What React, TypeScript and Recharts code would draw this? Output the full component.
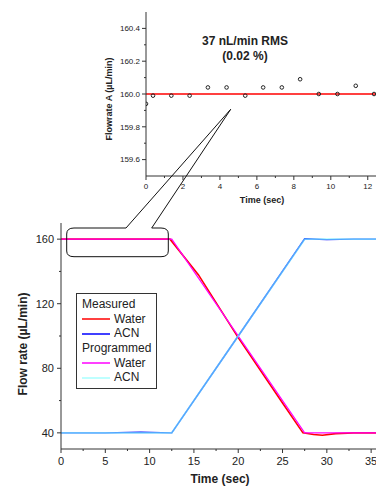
import React from 'react'
import {
  LineChart, Line, ComposedChart, Scatter, XAxis, YAxis, ReferenceLine, Legend,
} from 'recharts'

const FONT = '"Liberation Sans", Arial, sans-serif'

// main chart: measured and programmed gradients
const measuredWaterTime = [0, 5, 10, 12.3, 15.5, 20, 25, 27.3, 28.5, 29.5, 31, 33, 36]
const measuredWaterFlow = [160, 160, 160, 160, 138, 99, 58.5, 40, 39, 38.5, 39.5, 40, 40]
const measuredAcnTime = [0, 5, 9, 12.5, 20, 27.5, 30, 33, 36]
const measuredAcnFlow = [40, 40, 40.4, 40, 100, 160.2, 159.7, 160, 160]
const programmedTime = [0, 12.5, 27.5, 36]
const programmedWater = [160, 160, 40, 40]
const programmedAcn = [40, 40, 160, 160]

const mainXTicks = [0, 2.5, 5, 7.5, 10, 12.5, 15, 17.5, 20, 22.5, 25, 27.5, 30, 32.5, 35]
const mainXMajor = [0, 5, 10, 15, 20, 25, 30, 35]
const mainYTicks = [40, 60, 80, 100, 120, 140, 160]
const mainYMajor = [40, 80, 120, 160]

// inset: zoom on the first 12 s of water flow
const insetTime = [0, 0.38, 1.37, 2.36, 3.35, 4.36, 5.37, 6.34, 7.35, 8.34, 9.35, 10.36, 11.35, 12.34]
const insetFlow = [159.94, 159.99, 159.99, 159.99, 160.04, 160.04, 159.99, 160.04, 160.04, 160.09, 160.0, 160.0, 160.05, 160.0]
const insetXTicks = [0, 1, 2, 3, 4, 5, 6, 7, 8, 9, 10, 11, 12]
const insetXMajor = [0, 2, 4, 6, 8, 10, 12]
const insetYTicks = [159.6, 159.7, 159.8, 159.9, 160.0, 160.1, 160.2, 160.3, 160.4]
const insetYMajor = [159.6, 159.8, 160.0, 160.2, 160.4]

const legendItems = [
  { heading: 'Measured' },
  { name: 'Water', color: '#ff0000' },
  { name: 'ACN', color: '#0000ff' },
  { heading: 'Programmed' },
  { name: 'Water', color: '#ff00ff' },
  { name: 'ACN', color: '#a8ffff' },
]

const zip = (xs: number[], ys: number[]) => xs.map((t, i) => ({ t, v: ys[i] }))

const isMajor = (list: number[], v: number) => list.some(m => Math.abs(m - v) < 1e-6)

function leftTick(majors: number[], fontSize: number, fmt: (v: number) => string, gap: number) {
  return (p: any) => {
    const v = p.payload.value
    const major = isMajor(majors, v)
    const ax = p.x + gap
    return (
      <g>
        <line x1={ax - (major ? 4 : 2)} x2={ax} y1={p.y} y2={p.y} stroke="#333" />
        {major && (
          <text x={p.x} y={p.y} dy="0.35em" textAnchor="end" fontSize={fontSize} fill="#222" fontFamily={FONT}>
            {fmt(v)}
          </text>
        )}
      </g>
    )
  }
}

function bottomTick(majors: number[], fontSize: number, gap: number) {
  return (p: any) => {
    const v = p.payload.value
    const major = isMajor(majors, v)
    const ay = p.y - gap
    return (
      <g>
        <line x1={p.x} x2={p.x} y1={ay} y2={ay + (major ? 4 : 2)} stroke="#333" />
        {major && (
          <text x={p.x} y={p.y} dy="0.71em" textAnchor="middle" fontSize={fontSize} fill="#222" fontFamily={FONT}>
            {v}
          </text>
        )}
      </g>
    )
  }
}

function MainLegend() {
  return (
    <div style={{ width: 81, height: 96, border: '1px solid #333', background: '#fff', boxSizing: 'border-box', fontFamily: FONT, fontSize: 12, color: '#222', padding: '3px 0 0 5px' }}>
      {legendItems.map((it, i) => (
        <div key={i} style={{ height: 14.7, lineHeight: '14.7px', whiteSpace: 'nowrap', display: 'flex', alignItems: 'center' }}>
          {it.heading ? it.heading : (
            <>
              <svg width={30} height={4} style={{ marginRight: 2 }}>
                <line x1={0} x2={28} y1={2} y2={2} stroke={it.color} strokeWidth={1.5} />
              </svg>
              {it.name}
            </>
          )}
        </div>
      ))}
    </div>
  )
}

export default function App() {
  return (
    <div style={{ position: 'fixed', left: 0, top: 0, width: 376, height: 486, overflow: 'hidden', background: '#fff' }}>
      {/* inset */}
      <div style={{ position: 'absolute', left: 0, top: 0 }}>
        <ComposedChart width={377} height={210} margin={{ top: 12, right: 0, left: 0, bottom: 0 }}>
          <XAxis
            dataKey="t" type="number" domain={[0, 12.5]} ticks={insetXTicks} allowDataOverflow
            height={34} tickSize={4} tickMargin={3} tickLine={false} axisLine={{ stroke: '#333' }}
            tick={bottomTick(insetXMajor, 8, 7)} interval={0}
            label={{ content: () => <text x={262} y={203} textAnchor="middle" fontSize={9} fontWeight="bold" fontFamily={FONT} fill="#222">Time (sec)</text> }}
          />
          <XAxis xAxisId="top" orientation="top" type="number" domain={[0, 12.5]} height={0} tick={false} tickLine={false} axisLine={{ stroke: '#333' }} />
          <YAxis
            dataKey="v" type="number" domain={[159.5, 160.5]} ticks={insetYTicks} allowDataOverflow
            width={146} tickSize={4} tickMargin={2} tickLine={false} axisLine={{ stroke: '#333' }}
            tick={leftTick(insetYMajor, 8, v => v.toFixed(1), 6)} interval={0}
            label={{ content: () => <text x={109} y={99} transform="rotate(-90 109 99)" textAnchor="middle" dominantBaseline="central" fontSize={9} fontWeight="bold" fontFamily={FONT} fill="#222">Flowrate A (µL/min)</text> }}
          />
          <ReferenceLine y={160} stroke="#ff0000" strokeWidth={1.5} />
          <Scatter
            data={zip(insetTime, insetFlow)} isAnimationActive={false}
            shape={(p: any) => <circle cx={p.cx} cy={p.cy} r={1.8} fill="none" stroke="#222" strokeWidth={1} />}
          />
        </ComposedChart>
      </div>

      {/* main */}
      <div style={{ position: 'absolute', left: 0, top: 0 }}>
        <LineChart width={380} height={486} margin={{ top: 223, right: 0, left: 0, bottom: 0 }}>
          <XAxis
            dataKey="t" type="number" domain={[0, 36]} ticks={mainXTicks} allowDataOverflow
            height={37} tickSize={4} tickMargin={4} tickLine={false} axisLine={{ stroke: '#333' }}
            tick={bottomTick(mainXMajor, 11, 8)} interval={0}
            label={{ content: () => <text x={220} y={482.5} textAnchor="middle" fontSize={12} fontWeight="bold" fontFamily={FONT} fill="#222">Time (sec)</text> }}
          />
          <XAxis xAxisId="top" orientation="top" type="number" domain={[0, 36]} height={0} tick={false} tickLine={false} axisLine={{ stroke: '#333' }} />
          <YAxis
            dataKey="v" type="number" domain={[30, 170]} ticks={mainYTicks} allowDataOverflow
            width={61} tickSize={4} tickMargin={3} tickLine={false} axisLine={{ stroke: '#333' }}
            tick={leftTick(mainYMajor, 11, v => String(v), 7)} interval={0}
            label={{ content: () => <text x={23} y={344} transform="rotate(-90 23 344)" textAnchor="middle" dominantBaseline="central" fontSize={12} fontWeight="bold" fontFamily={FONT} fill="#222">Flow rate (µL/min)</text> }}
          />
          <Legend
            layout="horizontal" verticalAlign="middle" align="center"
            wrapperStyle={{ left: 76, top: 293, width: 81, height: 96 }}
            content={() => <MainLegend />}
          />
          <Line data={zip(measuredWaterTime, measuredWaterFlow)} dataKey="v" name="Measured Water" stroke="#ff0000" strokeWidth={1.6} dot={false} isAnimationActive={false} />
          <Line data={zip(measuredAcnTime, measuredAcnFlow)} dataKey="v" name="Measured ACN" stroke="#0000ff" strokeWidth={1.4} dot={false} isAnimationActive={false} />
          <Line data={zip(programmedTime, programmedWater)} dataKey="v" name="Programmed Water" stroke="#ff00ff" strokeWidth={1.2} dot={false} isAnimationActive={false} />
          <Line data={zip(programmedTime, programmedAcn)} dataKey="v" name="Programmed ACN" stroke="#80ffff" strokeOpacity={0.65} strokeWidth={1.8} dot={false} isAnimationActive={false} />
        </LineChart>
      </div>

      {/* callout + annotation */}
      <svg width={376} height={486} style={{ position: 'absolute', left: 0, top: 0, pointerEvents: 'none' }}>
        <path
          d="M126,228 L230.7,109.3 L151.7,228 L161,228 Q168.3,228 168.3,234 L168.3,251 Q168.3,256.7 161,256.7 L74,256.7 Q66.7,256.7 66.7,251 L66.7,234 Q66.7,228 74,228 Z"
          fill="none" stroke="#111" strokeWidth={1}
        />
        <text x={245} y={45} textAnchor="middle" fontSize={12} fontWeight="bold" fontFamily={FONT} fill="#222">37 nL/min RMS</text>
        <text x={245} y={59.5} textAnchor="middle" fontSize={12} fontWeight="bold" fontFamily={FONT} fill="#222">(0.02 %)</text>
      </svg>
    </div>
  )
}
